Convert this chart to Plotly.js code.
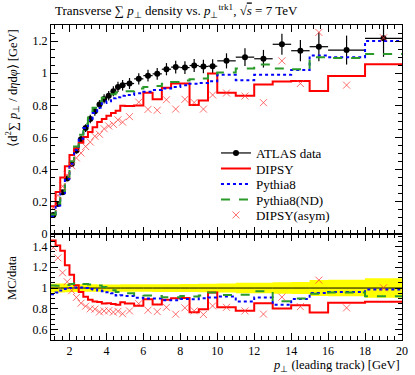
<!DOCTYPE html>
<html>
<head>
<meta charset="utf-8">
<script src="https://cdn.plot.ly/plotly-3.0.1.min.js"></script>
<style>
  body { margin: 0; background: white; }
  #chart { width: 415px; height: 375px; }
</style>
</head>
<body>
<div id="chart"></div>
<script>
// pT(leading track) bin edges [GeV]
const binEdges = [1, 1.25, 1.5, 1.75, 2, 2.25, 2.5, 2.75, 3, 3.25, 3.5, 3.75, 4, 4.25, 4.5, 4.75, 5,
  5.5, 6, 6.5, 7, 7.5, 8, 8.5, 9, 9.5, 10, 11, 12, 13, 14, 15, 16, 18, 20];

// <d2 sum pT / deta dphi> [GeV], one value per bin
const atlasData = [0.118, 0.186, 0.259, 0.346, 0.436, 0.520, 0.590, 0.659, 0.715, 0.763, 0.805, 0.840,
  0.860, 0.888, 0.915, 0.925, 0.936, 0.965, 0.985, 0.996, 1.025, 1.038, 1.035, 1.048, 1.042, 1.044,
  1.077, 1.100, 1.090, 1.180, 1.140, 1.165, 1.144, 1.217];
const atlasErr = [0.005, 0.008, 0.011, 0.014, 0.017, 0.020, 0.022, 0.024, 0.026, 0.027, 0.028, 0.029,
  0.030, 0.031, 0.032, 0.033, 0.034, 0.035, 0.036, 0.037, 0.038, 0.039, 0.040, 0.041, 0.042, 0.043,
  0.047, 0.055, 0.055, 0.065, 0.066, 0.090, 0.090, 0.115];
const dipsy = [0.172, 0.262, 0.352, 0.422, 0.492, 0.534, 0.568, 0.603, 0.634, 0.664, 0.696, 0.716,
  0.735, 0.752, 0.767, 0.798, 0.796, 0.800, 0.879, 0.838, 0.910, 0.936, 0.936, 0.803, 0.830, 0.998,
  0.878, 0.860, 0.930, 0.948, 0.952, 0.890, 0.983, 1.056];
const pythia8 = [0.111, 0.178, 0.253, 0.343, 0.436, 0.523, 0.593, 0.659, 0.708, 0.752, 0.785, 0.815,
  0.826, 0.844, 0.850, 0.860, 0.865, 0.875, 0.885, 0.895, 0.905, 0.915, 0.925, 0.935, 0.940, 0.950,
  0.990, 0.957, 0.990, 0.990, 1.020, 1.110, 1.100, 1.200];
const pythia8ND = [0.121, 0.190, 0.267, 0.356, 0.453, 0.545, 0.618, 0.685, 0.740, 0.786, 0.825, 0.848,
  0.856, 0.870, 0.880, 0.885, 0.888, 0.905, 0.915, 0.920, 0.935, 0.945, 0.955, 0.962, 0.968, 0.998,
  1.005, 1.030, 1.055, 1.030, 1.025, 1.100, 1.095, 1.120];
const dipsyAsym = [0.164, 0.240, 0.297, 0.367, 0.425, 0.473, 0.504, 0.544, 0.572, 0.608, 0.620, 0.655,
  0.672, 0.682, 0.710, 0.696, 0.730, 0.820, 0.775, 0.770, 0.835, 0.777, 0.838, 0.818, 0.777, 0.865,
  0.877, 0.858, 0.817, 1.077, 0.936, 1.254, 0.926, 1.220];

const centers = atlasData.map((_, i) => (binEdges[i] + binEdges[i + 1]) / 2);
const halfWidths = atlasData.map((_, i) => (binEdges[i + 1] - binEdges[i]) / 2);

// histogram as a step line: one point per left edge, plus the last right edge
function stepY(vals) {
  return vals.concat([vals[vals.length - 1]]);
}
function ratio(vals) {
  return vals.map((v, i) => v / atlasData[i]);
}

const RED = "#ff0000";
const BLUE = "#0000ff";
const GREEN = "#2a9a2a";
const ASYM = "rgba(255,60,60,0.75)";

const traces = [
  // main panel
  {
    x: centers, y: atlasData, type: "scatter", mode: "markers", showlegend: false,
    marker: { color: "black", size: 6 },
    error_y: { type: "data", array: atlasErr, color: "black", thickness: 1.2, width: 0 },
    error_x: { type: "data", array: halfWidths, color: "black", thickness: 1.2, width: 0 },
    xaxis: "x", yaxis: "y", hoverinfo: "skip"
  },
  {
    x: [null], y: [null], type: "scatter", mode: "lines+markers", name: "ATLAS data", legend: "legend",
    line: { color: "black", width: 1.2 }, marker: { color: "black", size: 6 },
    xaxis: "x", yaxis: "y"
  },
  {
    x: binEdges, y: stepY(dipsy), type: "scatter", mode: "lines", name: "DIPSY", legend: "legend2",
    line: { color: RED, width: 2, shape: "hv" }, xaxis: "x", yaxis: "y"
  },
  {
    x: binEdges, y: stepY(pythia8), type: "scatter", mode: "lines", name: "Pythia8", legend: "legend3",
    line: { color: BLUE, width: 2, shape: "hv", dash: "dot" }, xaxis: "x", yaxis: "y"
  },
  {
    x: binEdges, y: stepY(pythia8ND), type: "scatter", mode: "lines", name: "Pythia8(ND)", legend: "legend4",
    line: { color: GREEN, width: 2, shape: "hv", dash: "dash" }, xaxis: "x", yaxis: "y"
  },
  {
    x: centers, y: dipsyAsym, type: "scatter", mode: "markers", name: "DIPSY(asym)", legend: "legend5",
    marker: { symbol: "x-thin-open", size: 7, color: ASYM, line: { color: ASYM, width: 1 } },
    xaxis: "x", yaxis: "y"
  },
  // ratio panel: data uncertainty band
  {
    x: binEdges, y: stepY(atlasData.map((v, i) => 1 - atlasErr[i] / v)), type: "scatter", mode: "lines",
    line: { width: 0, shape: "hv", color: "rgba(0,0,0,0)" }, showlegend: false, xaxis: "x2", yaxis: "y2"
  },
  {
    x: binEdges, y: stepY(atlasData.map((v, i) => 1 + atlasErr[i] / v)), type: "scatter", mode: "lines",
    line: { width: 0, shape: "hv", color: "rgba(0,0,0,0)" }, fill: "tonexty", fillcolor: "#ffff00",
    showlegend: false, xaxis: "x2", yaxis: "y2"
  },
  {
    x: binEdges, y: stepY(ratio(atlasData)), type: "scatter", mode: "lines", showlegend: false,
    line: { color: "black", width: 1, shape: "hv" }, xaxis: "x2", yaxis: "y2"
  },
  {
    x: binEdges, y: stepY(ratio(dipsy)), type: "scatter", mode: "lines", showlegend: false,
    line: { color: RED, width: 2, shape: "hv" }, xaxis: "x2", yaxis: "y2"
  },
  {
    x: binEdges, y: stepY(ratio(pythia8)), type: "scatter", mode: "lines", showlegend: false,
    line: { color: BLUE, width: 2, shape: "hv", dash: "dot" }, xaxis: "x2", yaxis: "y2"
  },
  {
    x: binEdges, y: stepY(ratio(pythia8ND)), type: "scatter", mode: "lines", showlegend: false,
    line: { color: GREEN, width: 2, shape: "hv", dash: "dash" }, xaxis: "x2", yaxis: "y2"
  },
  {
    x: centers, y: ratio(dipsyAsym), type: "scatter", mode: "markers", showlegend: false,
    marker: { symbol: "x-thin-open", size: 7, color: ASYM, line: { color: ASYM, width: 1 } },
    xaxis: "x2", yaxis: "y2"
  }
];

const axisStyle = {
  showline: true, linecolor: "black", linewidth: 1, mirror: "allticks",
  ticks: "inside", ticklen: 7, tickwidth: 1, tickcolor: "black",
  showgrid: false, zeroline: false,
  tickfont: { family: "Liberation Serif, serif", size: 12, color: "black" }
};

const split = 0.3365;

// one legend per entry so the rows can sit closer than Plotly's default spacing
function legendAt(pixelY) {
  return {
    x: 0.47, y: (340 - pixelY) / 315, xanchor: "left", yanchor: "middle",
    bgcolor: "rgba(0,0,0,0)", font: { size: 13 }
  };
}

const layout = {
  width: 415, height: 375,
  margin: { l: 51, r: 13, t: 25, b: 35 },
  paper_bgcolor: "white", plot_bgcolor: "white",
  font: { family: "Liberation Serif, serif", size: 12, color: "black" },
  showlegend: true,
  legend: legendAt(153),
  legend2: legendAt(168.5),
  legend3: legendAt(184),
  legend4: legendAt(199.5),
  legend5: legendAt(215),
  xaxis: Object.assign({}, axisStyle, {
    domain: [0, 1], anchor: "y", range: [1, 20], tick0: 0, dtick: 2,
    showticklabels: false, minor: { ticks: "inside", ticklen: 4, dtick: 0.4, tick0: 0, tickcolor: "black" }
  }),
  yaxis: Object.assign({}, axisStyle, {
    domain: [split, 1], anchor: "x", range: [0, 1.3], tick0: 0, dtick: 0.2,
    minor: { ticks: "inside", ticklen: 4, dtick: 0.05, tickcolor: "black" }
  }),
  xaxis2: Object.assign({}, axisStyle, {
    domain: [0, 1], anchor: "y2", range: [1, 20], tick0: 0, dtick: 2,
    minor: { ticks: "inside", ticklen: 4, dtick: 0.4, tick0: 0, tickcolor: "black" }
  }),
  yaxis2: Object.assign({}, axisStyle, {
    domain: [0, split], anchor: "x2", range: [0.5, 1.52], tickvals: [0.6, 0.8, 1, 1.2, 1.4],
    minor: { ticks: "inside", ticklen: 4, dtick: 0.05, tickcolor: "black" }
  }),
  annotations: [
    {
      text: "Transverse ∑ <i>p</i><sub>⊥</sub> density vs. <i>p</i><sub>⊥</sub><sup>trk1</sup>, √<span style=\"text-decoration:overline\"><i>s</i></span> = 7 TeV",
      xref: "paper", yref: "paper", x: 0.006, y: 1.044, xanchor: "left", yanchor: "middle",
      showarrow: false, font: { size: 13 }
    },
    {
      text: "⟨d<sup>2</sup>∑ <i>p</i><sub>⊥</sub> / d<i>η</i>d<i>φ</i>⟩ [GeV]",
      xref: "paper", yref: "paper", x: -0.111, y: 0.99, xanchor: "center", yanchor: "top",
      textangle: -90, showarrow: false, font: { size: 12.5 }
    },
    {
      text: "MC/data",
      xref: "paper", yref: "paper", x: -0.111, y: 0.197, xanchor: "center", yanchor: "middle",
      textangle: -90, showarrow: false, font: { size: 12.5 }
    },
    {
      text: "<i>p</i><sub>⊥</sub> (leading track) [GeV]",
      xref: "paper", yref: "paper", x: 1, y: -0.0825, xanchor: "right", yanchor: "middle",
      showarrow: false, font: { size: 12.5 }
    }
  ]
};

Plotly.newPlot("chart", traces, layout, { staticPlot: true, displayModeBar: false });
</script>
</body>
</html>
